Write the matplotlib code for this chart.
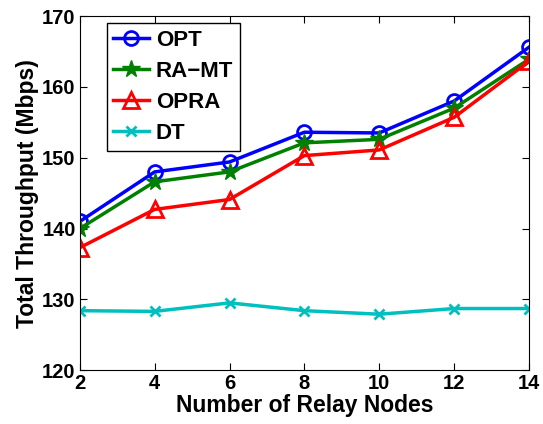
import numpy as np
import matplotlib
matplotlib.use('Agg')
import matplotlib.pyplot as plt

relays = [2, 4, 6, 8, 10, 12, 14]
opt = [141.0, 148.0, 149.4, 153.6, 153.5, 158.0, 165.6]
ra_mt = [140.0, 146.6, 148.0, 152.1, 152.6, 157.0, 163.9]
opra = [137.3, 142.7, 144.1, 150.3, 151.1, 155.7, 163.6]
dt = [128.4, 128.3, 129.5, 128.4, 127.9, 128.7, 128.7]

plt.rcParams['font.family'] = 'Liberation Sans'
plt.rcParams['font.weight'] = 'bold'

fig = plt.figure(figsize=(5.43, 4.24), dpi=100)
ax = fig.add_axes([0.147, 0.127, 0.827, 0.835])

ax.plot(relays, opt, color='blue', marker='o', markersize=10, markerfacecolor='none',
        markeredgewidth=2, linewidth=2.5, label='OPT')
ax.plot(relays, ra_mt, color='green', marker='*', markersize=13, linewidth=2.5, label='RA\u2212MT')
ax.plot(relays, opra, color='red', marker='^', markersize=11, markerfacecolor='none',
        markeredgewidth=2, linewidth=2.5, label='OPRA')
ax.plot(relays, dt, color='#00bfbf', marker='x', markersize=7, markeredgewidth=2,
        linewidth=2.5, label='DT')

ax.set_xlim(2, 14)
ax.set_ylim(120, 170)
ax.set_xticks(relays)
ax.set_yticks([120, 130, 140, 150, 160, 170])
ax.tick_params(direction='in', top=True, right=True, labelsize=14.5, length=5, pad=3)
for lab in ax.get_xticklabels() + ax.get_yticklabels():
    lab.set_fontweight('bold')
ax.set_xlabel('Number of Relay Nodes', fontsize=16.5, fontweight='bold', labelpad=0.5)
ax.set_ylabel('Total Throughput (Mbps)', fontsize=16.5, fontweight='bold', labelpad=2)

leg = ax.legend(loc='upper left', bbox_to_anchor=(0.06, 0.98), fontsize=16, fancybox=False,
                edgecolor='black', framealpha=1, handlelength=1.6, borderpad=0.3,
                labelspacing=0.45, handletextpad=0.3, borderaxespad=0)
leg.get_frame().set_linewidth(1)
for t in leg.get_texts():
    t.set_fontweight('bold')

fig.savefig('out.png', dpi=100)
